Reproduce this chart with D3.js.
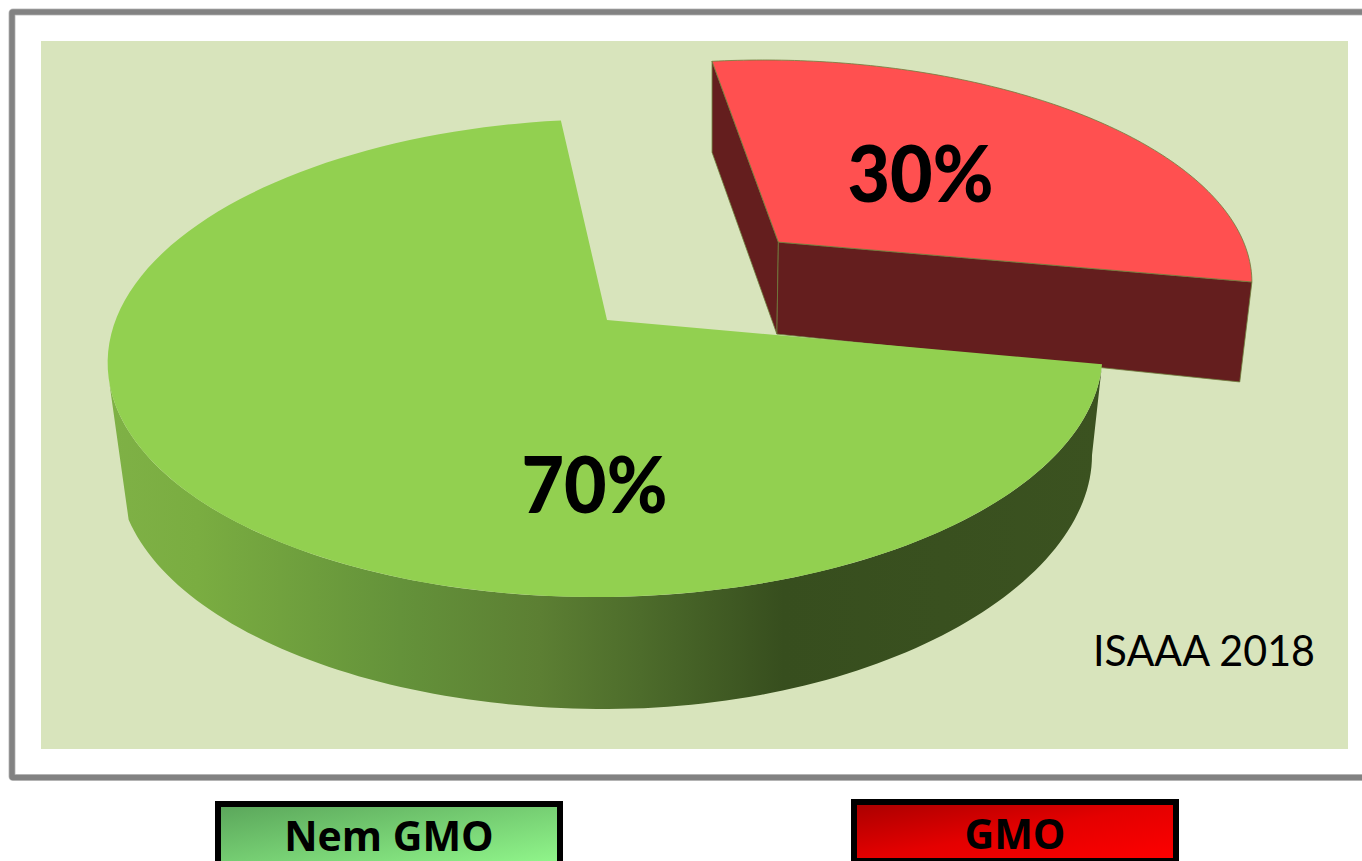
<!DOCTYPE html>
<html>
<head>
<meta charset="utf-8">
<script src="https://cdn.jsdelivr.net/npm/d3@7/dist/d3.min.js"></script>
<style>
html, body { margin: 0; padding: 0; background: #fff; overflow: hidden; }
svg { display: block; }
text { font-family: "Open Sans", sans-serif; }
</style>
</head>
<body>
<svg id="chart" width="1362" height="861"></svg>
<script>
// Chart content
const categories = ["Nem GMO", "GMO"];
const shares = [70, 30];
const shareLabels = ["70%", "30%"];
const sourceNote = "ISAAA 2018";

const svg = d3.select("#chart");
const defs = svg.append("defs");

// Ground-plane projection of the unit disc onto the tilted pie surface
const cam = { cx: 607, cy: 320, a: 491, b: 233, k: 0.159, shear: -0.05, roll: 0.002 };
function project(u, v) {
  const w = 1 - cam.k * v;
  const px = cam.a * u / w;
  const py = cam.b * v / w;
  const sx = px + cam.shear * py;
  return [cam.cx + sx, cam.cy + py + cam.roll * sx];
}

// Pie layout: first slice starts at the 10.4 degree cut and sweeps clockwise on screen
const startDeg = 10.4;
const arcs = d3.pie().sort(null)
  .startAngle(startDeg * Math.PI / 180)
  .endAngle((startDeg + 360) * Math.PI / 180)(shares);

// Exploded offset of the small slice, along its bisector
const explode = 0.497;
const redLift = -2.5;

function rimPoint(angle, off) {
  return project(off[0] + Math.cos(angle), off[1] + Math.sin(angle));
}
function sliceOffset(arc, amount) {
  const mid = (arc.startAngle + arc.endAngle) / 2;
  return [amount * Math.cos(mid), amount * Math.sin(mid)];
}
function rimPoints(a0, a1, off) {
  return d3.range(0, 121).map(i => rimPoint(a0 + (a1 - a0) * i / 120, off));
}

// Lower outline of the large slice's wall: an ellipse that lifts a little on the far side
const foot = { cx: 605, cy: 470, a: 487, b: 239, lift: 10 };
function footPoint(angle) {
  const dx = foot.a * Math.cos(angle);
  const rise = dx > 0 ? foot.lift * Math.pow(dx / 400, 2) : 0;
  return [foot.cx + dx, foot.cy + foot.b * Math.sin(angle) - rise];
}
const footPoints = d3.range(0, 121).map(i => footPoint((168 * Math.PI / 180) * i / 120));

// Lower edge of the small slice's cut faces
const lowerRed = p => [p[0] + (712 - p[0]) * 0.0225,
  p[1] + 91 + 0.017 * (p[0] - 712) - 0.00077 * (p[1] - 62)];

const line = d3.line().curve(d3.curveLinear);

// Frame and plot panel
svg.append("rect").attr("x", 12).attr("y", 12).attr("width", 1400).attr("height", 765.5)
  .attr("rx", 1).attr("fill", "#fff").attr("stroke", "#c4c4c4").attr("stroke-width", 7);
svg.append("rect").attr("x", 12).attr("y", 12).attr("width", 1400).attr("height", 765.5)
  .attr("rx", 1).attr("fill", "none").attr("stroke", "#828282").attr("stroke-width", 5.5);
svg.append("rect").attr("x", 41).attr("y", 41).attr("width", 1307).attr("height", 708)
  .attr("fill", "#d8e4bc");

// Shading across the front wall of the large slice
const wallGrad = defs.append("linearGradient").attr("id", "wallShade")
  .attr("gradientUnits", "userSpaceOnUse")
  .attr("x1", 108).attr("x2", 1101).attr("y1", 0).attr("y2", 0);
[[0, "#7fb146"], [0.09, "#7aad41"], [0.294, "#64923a"], [0.435, "#5c7f33"],
 [0.536, "#4d6c2b"], [0.68, "#374e1e"], [1, "#3b5220"]].forEach(s =>
  wallGrad.append("stop").attr("offset", s[0]).attr("stop-color", s[1]));

const edge = "#6f7d3c";
const [greenArc, redArc] = arcs;
const greenOff = [0, 0];
const redOff = sliceOffset(redArc, explode);

// Red slice: two visible cut faces, then its top
const redGroup = svg.append("g").attr("transform", `translate(0,${redLift})`);
const redApex = project(redOff[0], redOff[1]);
const redStart = rimPoint(redArc.startAngle, redOff);
const redEnd = rimPoint(redArc.endAngle, redOff);
const redWall = [[redApex, redStart], [redApex, redEnd]];
redWall.forEach(([p, q]) => {
  redGroup.append("path")
    .attr("d", line([p, q, lowerRed(q), lowerRed(p)]) + "Z")
    .attr("fill", "#641e1e").attr("stroke", edge).attr("stroke-width", 0.8);
});
redGroup.append("path")
  .attr("d", line([redApex, ...rimPoints(redArc.startAngle, redArc.endAngle, redOff)]) + "Z")
  .attr("fill", "#ff5050").attr("stroke", edge).attr("stroke-width", 0.8);

// Green slice: outer wall for the front of the rim, ending in a straight left edge, then its top
const wallTop = rimPoints(greenArc.startAngle, 165 * Math.PI / 180, greenOff);
svg.append("path")
  .attr("d", line([...wallTop, ...footPoints.slice().reverse()]) + "Z")
  .attr("fill", "url(#wallShade)");
svg.append("path")
  .attr("d", line([project(0, 0), ...rimPoints(greenArc.startAngle, greenArc.endAngle, greenOff)]) + "Z")
  .attr("fill", "#92d050");

// Value labels
const labelAt = [[594.5, 513], [920.5, 202]];
shareLabels.forEach((t, i) => {
  svg.append("text").attr("x", labelAt[i][0]).attr("y", labelAt[i][1])
    .attr("text-anchor", "middle").attr("font-size", 79).attr("font-weight", 900)
    .style("font-family", "Lato, sans-serif")
    .attr("textLength", 146).attr("lengthAdjust", "spacingAndGlyphs")
    .attr("fill", "#000").text(t);
});

svg.append("text").attr("x", 1204).attr("y", 666).attr("text-anchor", "middle")
  .attr("font-size", 42).style("font-family", "Lato, sans-serif")
  .attr("textLength", 222).attr("lengthAdjust", "spacingAndGlyphs")
  .attr("fill", "#000").text(sourceNote);

// Legend boxes below the frame
const legendGreen = defs.append("linearGradient").attr("id", "legendGreen")
  .attr("x1", 0).attr("y1", 0).attr("x2", 1).attr("y2", 1);
legendGreen.append("stop").attr("offset", 0).attr("stop-color", "#5aa55a");
legendGreen.append("stop").attr("offset", 1).attr("stop-color", "#92f88c");
const legendRed = defs.append("linearGradient").attr("id", "legendRed")
  .attr("x1", 0).attr("y1", 0).attr("x2", 1).attr("y2", 1);
legendRed.append("stop").attr("offset", 0).attr("stop-color", "#a80000");
legendRed.append("stop").attr("offset", 0.5).attr("stop-color", "#e40000");
legendRed.append("stop").attr("offset", 1).attr("stop-color", "#ff0000");

const legendBoxes = [
  { x: 218, y: 804, w: 342, h: 62, fill: "url(#legendGreen)", tx: 389, ty: 851 },
  { x: 854, y: 802, w: 322, h: 59, fill: "url(#legendRed)", tx: 1015, ty: 849 }
];
legendBoxes.forEach((b, i) => {
  svg.append("rect").attr("x", b.x).attr("y", b.y).attr("width", b.w).attr("height", b.h)
    .attr("fill", b.fill).attr("stroke", "#000").attr("stroke-width", 6);
  svg.append("text").attr("x", b.tx).attr("y", b.ty).attr("text-anchor", "middle")
    .attr("font-size", 41).attr("font-weight", 700).attr("fill", "#000").text(categories[i]);
});
</script>
</body>
</html>
